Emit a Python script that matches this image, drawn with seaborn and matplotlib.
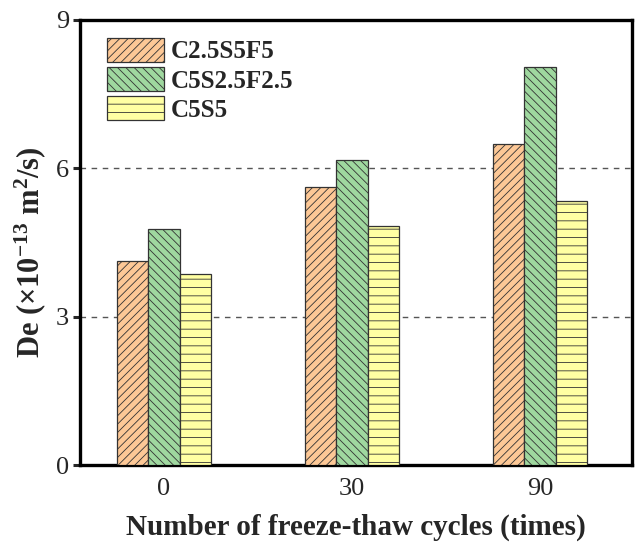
import matplotlib
matplotlib.use("Agg")
import matplotlib.pyplot as plt
from matplotlib.patches import Patch
import seaborn as sns
import pandas as pd

# Freeze-thaw cycles and effective diffusion coefficient per mix
cycles = ["0", "30", "90"]
mixes = ["C2.5S5F5", "C5S2.5F2.5", "C5S5"]
de_c25s5f5 = [4.12, 5.63, 6.49]
de_c5s25f25 = [4.78, 6.17, 8.04]
de_c5s5 = [3.87, 4.84, 5.33]

colors = ["#FDC896", "#9FD89F", "#FFFFA3"]
hatches = ["////", "\\\\\\\\", "--"]

rows = []
for mix, vals in zip(mixes, [de_c25s5f5, de_c5s25f25, de_c5s5]):
    for c, v in zip(cycles, vals):
        rows.append({"cycles": c, "mix": mix, "De": v})
df = pd.DataFrame(rows)

sns.set_theme(style="white")
plt.rcParams["font.family"] = ["Liberation Serif", "DejaVu Serif"]
plt.rcParams["mathtext.fontset"] = "custom"
plt.rcParams["mathtext.rm"] = "Liberation Serif:bold"
plt.rcParams["mathtext.it"] = "Liberation Serif:bold"
plt.rcParams["mathtext.bf"] = "Liberation Serif:bold"
plt.rcParams["hatch.linewidth"] = 0.6
plt.rcParams["hatch.color"] = "#444444"

fig = plt.figure(figsize=(6.38, 5.49), dpi=100)
ax = fig.add_axes([0.1254, 0.153, 0.8652, 0.8106])

sns.barplot(data=df, x="cycles", y="De", hue="mix", order=cycles,
            hue_order=mixes, palette=colors, saturation=1, width=0.5, gap=0,
            edgecolor="#333333", linewidth=0.9, ax=ax, legend=False,
            zorder=3)

for cont, h in zip(ax.containers, hatches):
    for p in cont.patches:
        p.set_hatch(h)
        p.set_edgecolor("#333333")

ax.set_xlim(-0.447, 2.489)
ax.set_ylim(0, 9)
ax.set_yticks([0, 3, 6, 9])
ax.yaxis.grid(True, linestyle=(0, (4, 4)), color="#555555", linewidth=1.0, zorder=0)
ax.set_axisbelow(True)

for s in ax.spines.values():
    s.set_linewidth(2.4)
    s.set_color("black")

ax.tick_params(axis="y", which="major", direction="out", length=5, width=2.2,
               labelsize=19, left=True, pad=3)
ax.tick_params(axis="x", length=0, labelsize=19, pad=9)

ax.set_xlabel("Number of freeze-thaw cycles (times)", fontsize=21,
              fontweight="bold", labelpad=10)
ax.set_ylabel(r"De ($\mathregular{\times10^{-13}}$ m$\mathregular{^2}$/s)",
              fontsize=22, fontweight="bold")
ax.yaxis.set_label_coords(-0.058, 0.479)

handles = [Patch(facecolor=c, edgecolor="#333333", hatch=h, linewidth=0.9)
           for c, h in zip(colors, hatches)]
leg = ax.legend(handles, mixes, loc="upper left", frameon=False,
                prop={"weight": "bold", "size": 18},
                handlelength=2.28, handleheight=1.1, handletextpad=0.25,
                labelspacing=0.15, borderaxespad=0, borderpad=0,
                bbox_to_anchor=(0.049, 0.96))

fig.savefig("out.png", dpi=100)
